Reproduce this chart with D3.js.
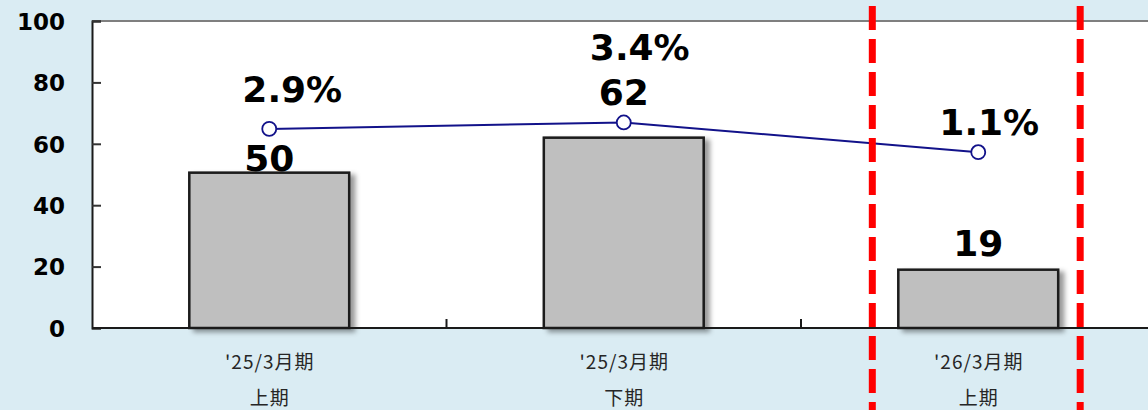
<!DOCTYPE html>
<html><head><meta charset="utf-8">
<script src="https://cdn.jsdelivr.net/npm/d3@7"></script>
<style>
html,body{margin:0;padding:0;background:#daecf3;}
svg{display:block;}
</style></head>
<body>
<svg id="chart" width="1148" height="410"></svg>
<script>
// ---- data ----
const categories = ["'25/3月期\n上期", "'25/3月期\n下期", "'26/3月期\n上期"];
const barValues = [50.6, 62, 19];
const barLabels = ["50", "62", "19"];
const rateValues = [2.9, 3.4, 1.1];
const rateLabels = ["2.9%", "3.4%", "1.1%"];
const yTicks = [0, 20, 40, 60, 80, 100];
const rateDomain = [-12.5, 11.25];
// label nudges (layout only)
const barLabelDy = [-2, -33, -14];
const rateLabelDx = [23, 16, 11];
const rateLabelDy = [-27, -62, -17];

(function () {
const svg = d3.select("#chart");
const W = 1148, H = 410;
const plotLeft = 92, plotTop = 21, plotBottom = 328, rightEnd = 1155.5;

const x = d3.scaleBand().domain(categories).range([plotLeft, rightEnd])
  .paddingInner(0.549).paddingOuter(0.549 / 2);
const y = d3.scaleLinear().domain([0, 100]).range([plotBottom, plotTop]);
const y2 = d3.scaleLinear().domain(rateDomain).range([plotBottom, plotTop]);

const defs = svg.append("defs");
const f = defs.append("filter").attr("id", "shadow").attr("x", "-10%").attr("y", "-10%").attr("width", "130%").attr("height", "130%");
f.append("feDropShadow").attr("dx", 5).attr("dy", 3).attr("stdDeviation", 2.5)
  .attr("flood-color", "#000").attr("flood-opacity", 0.4);

// plot area
svg.append("rect").attr("x", plotLeft).attr("y", plotTop).attr("width", W - plotLeft).attr("height", plotBottom - plotTop).attr("fill", "#fff");
svg.append("line").attr("x1", plotLeft).attr("x2", W).attr("y1", plotTop).attr("y2", plotTop)
  .attr("stroke", "#7f7f7f").attr("stroke-width", 2);

// bars
svg.append("g").selectAll("rect").data(barValues).join("rect")
  .attr("x", (d, i) => x(categories[i]))
  .attr("y", d => y(d))
  .attr("width", x.bandwidth())
  .attr("height", d => y(0) - y(d))
  .attr("fill", "#bfbfbf")
  .attr("stroke", "#1a1a1a")
  .attr("stroke-width", 2.5)
  .attr("filter", "url(#shadow)");

// y axis
const yAxis = d3.axisLeft(y).tickValues(yTicks).tickSize(-9).tickPadding(0).tickFormat(d3.format("d"));
const gy = svg.append("g").attr("transform", `translate(${plotLeft},0)`).call(yAxis);
gy.select(".domain").attr("stroke", "#1a1a1a").attr("stroke-width", 2);
gy.selectAll(".tick line").attr("stroke", "#333").attr("stroke-width", 2);
gy.selectAll(".tick text").attr("x", -27).attr("dy", "0.36em")
  .attr("font-family", "DejaVu Sans, Verdana, sans-serif").attr("font-weight", "bold")
  .attr("font-size", 23).attr("fill", "#000");

// x axis baseline and tick marks at band boundaries
svg.append("line").attr("x1", plotLeft).attr("x2", W).attr("y1", plotBottom).attr("y2", plotBottom)
  .attr("stroke", "#1a1a1a").attr("stroke-width", 2);
svg.append("g").selectAll("line").data(categories.slice(1)).join("line")
  .attr("x1", c => x(c) + x.bandwidth() / 2 - x.step() / 2)
  .attr("x2", c => x(c) + x.bandwidth() / 2 - x.step() / 2)
  .attr("y1", plotBottom).attr("y2", plotBottom - 9)
  .attr("stroke", "#1a1a1a").attr("stroke-width", 2);

// x labels
const xl = svg.append("g").selectAll("text").data(categories).join("text")
  .attr("text-anchor", "middle")
  .attr("font-family", "Noto Sans CJK JP, sans-serif")
  .attr("font-size", 19).attr("letter-spacing", 1).attr("fill", "#262626");
xl.each(function (c) {
  const parts = c.split("\n");
  const t = d3.select(this);
  t.append("tspan").attr("x", x(c) + x.bandwidth() / 2 + 0.5).attr("y", 369).text(parts[0]);
  t.append("tspan").attr("x", x(c) + x.bandwidth() / 2 + 0.5).attr("y", 405).text(parts[1]);
});

// rate line
const cx = (i) => x(categories[i]) + x.bandwidth() / 2;
const line = d3.line().x((d, i) => cx(i)).y(d => y2(d));
svg.append("path").datum(rateValues).attr("d", line)
  .attr("fill", "none").attr("stroke", "#12128a").attr("stroke-width", 2);
svg.append("g").selectAll("circle").data(rateValues).join("circle")
  .attr("cx", (d, i) => cx(i)).attr("cy", d => y2(d)).attr("r", 7)
  .attr("fill", "#fff").attr("stroke", "#12128a").attr("stroke-width", 1.8);

// red dashed lines around last period
const lastCat = categories[categories.length - 1];
const redX = [x(lastCat) - 26, x(lastCat) + x.bandwidth() + 22];
svg.append("g").selectAll("line").data(redX).join("line")
  .attr("x1", d => d).attr("x2", d => d).attr("y1", 6).attr("y2", H + 10)
  .attr("stroke", "#ff0000").attr("stroke-width", 7).attr("stroke-dasharray", "24,9");

// labels
const labelFont = "DejaVu Sans, Verdana, sans-serif";
svg.append("g").selectAll("text").data(barValues).join("text")
  .attr("x", (d, i) => cx(i)).attr("y", (d, i) => y(d) + barLabelDy[i])
  .attr("text-anchor", "middle").attr("font-family", labelFont).attr("font-weight", "bold")
  .attr("font-size", 36).attr("fill", "#000").text((d, i) => barLabels[i]);
svg.append("g").selectAll("text").data(rateValues).join("text")
  .attr("x", (d, i) => cx(i) + rateLabelDx[i]).attr("y", (d, i) => y2(d) + rateLabelDy[i])
  .attr("text-anchor", "middle").attr("font-family", labelFont).attr("font-weight", "bold")
  .attr("font-size", 36).attr("fill", "#000").text((d, i) => rateLabels[i]);
})();
</script>
</body></html>
